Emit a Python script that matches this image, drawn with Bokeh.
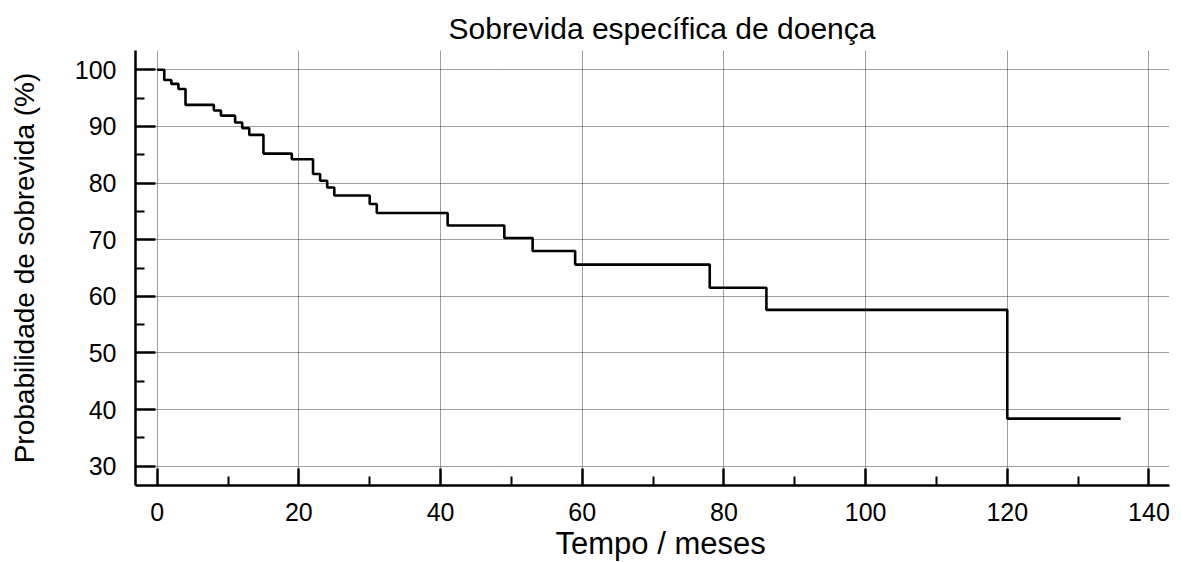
from bokeh.plotting import figure
from bokeh.models import FixedTicker, Range1d, Title
from bokeh.embed import file_html
from bokeh.resources import INLINE

# Kaplan-Meier estimate
time_months = [0, 1, 2, 3, 4, 8, 9, 11, 12, 13, 15, 19, 22, 23, 24, 25, 30, 31,
               41, 49, 53, 59, 78, 86, 120, 136]
survival_pct = [100, 98.2, 97.5, 96.6, 93.8, 92.8, 91.9, 90.7, 89.7, 88.5, 85.2,
                84.2, 81.6, 80.4, 79.2, 77.8, 76.3, 74.7, 72.5, 70.3, 68.0, 65.6,
                61.5, 57.6, 38.4, 38.4]

x_major_ticks = [0, 20, 40, 60, 80, 100, 120, 140]
x_minor_ticks = [10, 30, 50, 70, 90, 110, 130]
y_major_ticks = [30, 40, 50, 60, 70, 80, 90, 100]
y_minor_ticks = [35, 45, 55, 65, 75, 85, 95]

title_text = "Sobrevida específica de doença"
x_label = "Tempo / meses"
y_label = "Probabilidade de sobrevida (%)"

FONT = "Liberation Sans"

p = figure(width=1181, height=562, output_backend="svg", toolbar_location=None,
           x_range=Range1d(-3.06, 142.9), y_range=Range1d(26.6, 103.4),
           min_border_left=135, min_border_right=12, min_border_top=50,
           min_border_bottom=77, outline_line_color=None,
           background_fill_color="white", border_fill_color="white")

p.title = Title(text=title_text, align="left", offset=313, standoff=12,
                text_font=FONT, text_font_size="30px", text_font_style="normal",
                text_color="black")

p.step(time_months, survival_pct, mode="after", line_color="black", line_width=2.6)

for ax in (p.xaxis[0], p.yaxis[0]):
    ax.axis_line_color = "black"
    ax.axis_line_width = 2.5
    ax.major_tick_line_color = "black"
    ax.major_tick_line_width = 2.5
    ax.minor_tick_line_color = "black"
    ax.minor_tick_line_width = 2
    ax.major_tick_out = 0
    ax.minor_tick_out = 0
    ax.major_label_text_font = FONT
    ax.major_label_text_font_size = "25px"
    ax.major_label_text_color = "black"
    ax.axis_label_text_font = FONT
    ax.axis_label_text_font_style = "normal"
    ax.axis_label_text_color = "black"

xa = p.xaxis[0]
xa.ticker = FixedTicker(ticks=x_major_ticks, minor_ticks=x_minor_ticks)
xa.major_tick_in = 17
xa.minor_tick_in = 9
xa.major_label_standoff = 17

ya = p.yaxis[0]
ya.ticker = FixedTicker(ticks=y_major_ticks, minor_ticks=y_minor_ticks)
ya.major_tick_in = 20
ya.minor_tick_in = 9
ya.major_label_standoff = 19
ya.axis_label = y_label
ya.axis_label_text_font_size = "28px"
ya.axis_label_standoff = 32

# x-axis title as a "below" title so it can be shifted horizontally
p.add_layout(Title(text=x_label, align="left", offset=420, standoff=0,
                   text_font=FONT, text_font_size="31px", text_font_style="normal",
                   text_color="black"), "below")

for g in (p.xgrid[0], p.ygrid[0]):
    g.grid_line_color = "black"
    g.grid_line_alpha = 0.75
    g.grid_line_dash = "1 1"
    g.grid_line_width = 1

open("out.html", "w").write(file_html(p, INLINE))
